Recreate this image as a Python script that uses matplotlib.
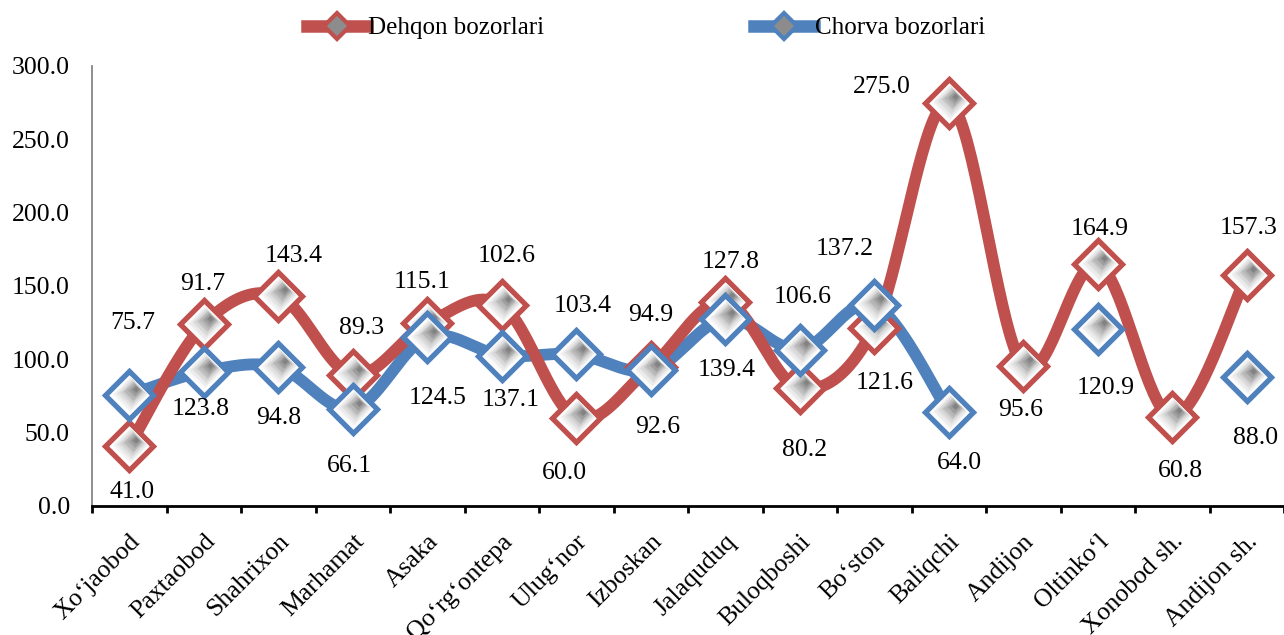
import numpy as np
import matplotlib
matplotlib.use("Agg")
import matplotlib.pyplot as plt
from matplotlib.lines import Line2D
from matplotlib.transforms import ScaledTranslation

plt.rcParams['font.family'] = ['Liberation Serif', 'DejaVu Serif']

districts = ["Xo‘jaobod", "Paxtaobod", "Shahrixon", "Marhamat", "Asaka", "Qo‘rg‘ontepa",
             "Ulug‘nor", "Izboskan", "Jalaquduq", "Buloqboshi", "Bo‘ston", "Baliqchi",
             "Andijon", "Oltinko‘l", "Xonobod sh.", "Andijon sh."]
dehqon = [41.0, 123.8, 143.4, 89.3, 124.5, 137.1, 60.0, 94.9,
          139.4, 80.2, 121.6, 275.0, 95.6, 164.9, 60.8, 157.3]
chorva = [75.7, 91.7, 94.8, 66.1, 115.1, 102.6, 103.4, 92.6,
          127.8, 106.6, 137.2, 64.0, np.nan, 120.9, np.nan, 88.0]

# label offsets in pixels (dx, dy with y pointing down), the way excel left them
dehqon_lbl = [(3, 46), (-3, 85), (15, -40), (9, -47), (10, 75), (9, 95), (-12, 55), (0, -52),
              (1, 68), (5, 62), (10, 55), (-67, -16), (-3, 44), (2, -35), (8, 54), (2, -47)]
chorva_lbl = [(3, -72), (-1, -88), (0, 51), (-3, 57), (-5, -55), (5, -100), (6, -48), (7, 57),
              (5, -57), (3, -53), (-30, -56), (11, 51), None, (8, 59), None, (9, 61)]

RED = '#C0504D'
BLUE = '#4F81BD'
FS = 18.5


def smooth(xs, ys, n=40):
    # excel style smoothed line (bezier through points)
    m = len(xs)
    px, py = [], []
    t = np.linspace(0, 1, n)
    for i in range(m - 1):
        a, b = max(i - 1, 0), min(i + 2, m - 1)
        x1, y1, x2, y2 = xs[i], ys[i], xs[i + 1], ys[i + 1]
        c1x, c1y = x1 + (x2 - xs[a]) / 6, y1 + (y2 - ys[a]) / 6
        c2x, c2y = x2 - (xs[b] - x1) / 6, y2 - (ys[b] - y1) / 6
        bx = (1-t)**3*x1 + 3*(1-t)**2*t*c1x + 3*(1-t)*t**2*c2x + t**3*x2
        by = (1-t)**3*y1 + 3*(1-t)**2*t*c1y + 3*(1-t)*t**2*c2y + t**3*y2
        px.extend(bx)
        py.extend(by)
    return np.array(px), np.array(py)


def runs(vals):
    out, cur = [], []
    for i, v in enumerate(vals):
        if np.isnan(v):
            if cur:
                out.append(cur)
            cur = []
        else:
            cur.append(i)
    if cur:
        out.append(cur)
    return out


def draw_line(ax, vals, color, z):
    for r in runs(np.array(vals, float)):
        if len(r) < 2:
            continue
        sx, sy = smooth([float(i) for i in r], [vals[i] for i in r])
        ax.plot(sx, sy, color=color, lw=8.5, solid_capstyle='round', zorder=z)


def draw_markers(ax, fig, vals, color, z):
    x = np.arange(len(vals))
    ms, mew = 24, 3.8
    ax.plot(x, vals, 'D', ms=ms, mfc='white', mec=color, mew=mew, zorder=z, ls='none')
    # fake the grey gradient fill with shrinking shifted diamonds
    R = ms * 0.707 - mew * 0.7
    n = 12
    for k in range(n):
        f = (k + 1) / n
        r = R * (1 - 0.85 * f)
        shift = (R - r) / 2 * 0.75 / 72
        g = 0.99 - 0.48 * f ** 1.4
        tr = ax.transData + ScaledTranslation(shift, shift, fig.dpi_scale_trans)
        ax.plot(x, vals, 'D', ms=r / 0.707, mfc=(g, g, g), mec='none',
                zorder=z + 0.01 * (k + 1), ls='none', transform=tr)


fig = plt.figure(figsize=(12.84, 6.35), dpi=100)
ax = fig.add_axes([92 / 1284, 1 - 506 / 635, 1 - 92 / 1284, (506 - 66) / 635])

x = np.arange(len(districts))
draw_line(ax, chorva, BLUE, 2)
draw_line(ax, dehqon, RED, 3)
draw_markers(ax, fig, dehqon, RED, 4)
draw_markers(ax, fig, chorva, BLUE, 5)

for vals, offs in ((dehqon, dehqon_lbl), (chorva, chorva_lbl)):
    for i, v in enumerate(vals):
        if offs[i] is None or np.isnan(v):
            continue
        dx, dy = offs[i]
        ax.annotate(f"{v:.1f}", (i, v), xytext=(dx, -dy), textcoords='offset pixels',
                    ha='center', va='center', fontsize=FS, zorder=10)

ax.set_xlim(-0.5, len(districts) - 0.5)
ax.set_ylim(0, 300)
ax.set_yticks(np.arange(0, 301, 50))
ax.set_yticklabels([f"{v:.1f}" for v in np.arange(0, 301, 50)], fontsize=FS)
ax.tick_params(axis='y', length=0, pad=16)

ax.set_xticks(x)
ax.set_xticklabels(districts, fontsize=FS, rotation=45, ha='right', va='top',
                   rotation_mode='anchor')
ax.set_xticks(np.arange(-0.5, len(districts), 1.0), minor=True)
ax.tick_params(axis='x', which='major', length=0, pad=19)
ax.tick_params(axis='x', which='minor', length=5, width=2, color='black', direction='out')
off = ScaledTranslation(0.0, 0.02, fig.dpi_scale_trans)
for lab in ax.get_xticklabels():
    lab.set_transform(lab.get_transform() + off)

for s in ('top', 'right'):
    ax.spines[s].set_visible(False)
ax.spines['left'].set_color('#868686')
ax.spines['left'].set_linewidth(1.3)
ax.spines['bottom'].set_color('black')
ax.spines['bottom'].set_linewidth(2)

handles = [Line2D([], [], color=RED, lw=9, marker='D', ms=13, mfc='#8c8c8c', mec=RED, mew=3),
           Line2D([], [], color=BLUE, lw=9, marker='D', ms=13, mfc='#8c8c8c', mec=BLUE, mew=3)]
fig.legend(handles, ["Dehqon bozorlari", "Chorva bozorlari"], loc='center',
           bbox_to_anchor=(646 / 1284, 1 - 28 / 635), ncol=2, frameon=False,
           fontsize=18, handlelength=2.4, handletextpad=0.05, columnspacing=8.4)

fig.savefig('out.png', dpi=100)
